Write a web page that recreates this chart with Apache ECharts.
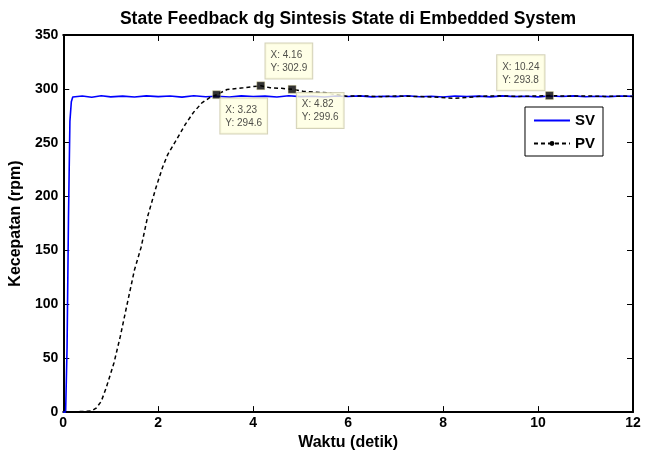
<!DOCTYPE html>
<html>
<head>
<meta charset="utf-8">
<script src="https://cdn.jsdelivr.net/npm/echarts@6/dist/echarts.min.js"></script>
<style>
html,body{margin:0;padding:0;background:#fff;}
#chart{width:648px;height:456px;}
</style>
</head>
<body>
<div id="chart"></div>
<script>
var titleText = 'State Feedback dg Sintesis State di Embedded System';
var xName = 'Waktu (detik)';
var yName = 'Kecepatan (rpm)';
var xTicks = [0, 2, 4, 6, 8, 10, 12];
var yTicks = [0, 50, 100, 150, 200, 250, 300, 350];

var svTime = [0, 0.05, 0.08, 0.11, 0.14, 0.17, 0.2, 0.4, 0.6, 0.8, 1.0, 1.25, 1.5, 1.75, 2.0, 2.25, 2.5, 2.75, 3.0, 3.25, 3.5, 3.75, 4.0, 4.25, 4.5, 4.75, 5.0, 5.25, 5.5, 5.75, 6.0, 6.25, 6.5, 6.75, 7.0, 7.25, 7.5, 7.75, 8.0, 8.25, 8.5, 8.75, 9.0, 9.25, 9.5, 9.75, 10.0, 10.25, 10.5, 10.75, 11.0, 11.25, 11.5, 11.75, 12.0];
var svValue = [0, 0, 60, 180, 270, 288, 292.5, 293.4, 292.2, 293.6, 292.6, 293.3, 292.4, 293.5, 292.8, 293.4, 292.3, 293.6, 292.7, 293.2, 292.5, 293.5, 292.9, 293.3, 292.4, 293.6, 292.8, 293.1, 292.5, 293.4, 292.9, 293.5, 292.6, 293.2, 292.8, 293.6, 292.7, 293.1, 292.5, 293.4, 292.9, 293.3, 292.6, 293.5, 292.8, 293.2, 292.6, 293.4, 292.9, 293.5, 292.7, 293.2, 292.8, 293.4, 293.0];

var pvTime = [0.05, 0.2, 0.3, 0.4, 0.5, 0.6, 0.7, 0.8, 0.9, 1.0, 1.07, 1.2, 1.32, 1.5, 1.64, 1.78, 1.95, 2.09, 2.2, 2.36, 2.57, 2.74, 2.92, 3.09, 3.23, 3.45, 3.79, 4.16, 4.36, 4.6, 4.82, 5.05, 5.3, 5.55, 5.97, 6.3, 6.7, 7.0, 7.4, 7.8, 8.2, 8.5, 8.8, 9.2, 9.6, 10.0, 10.24, 10.6, 11.0, 11.4, 11.8, 12.0];
var pvValue = [0, 0, 0.5, 0.5, 0.8, 1, 4, 10, 22, 36, 46, 70, 95, 132, 153, 182, 208, 227, 239, 251, 267, 278, 287, 292, 294.6, 299.4, 301, 302.9, 301, 300.5, 299.6, 297.8, 297, 296.3, 293.2, 293.5, 292.8, 293.4, 293, 292.5, 291.2, 292, 293.2, 293.5, 293, 293.4, 293.8, 293.2, 293.5, 293, 293.3, 293];

var tipX = [3.23, 4.16, 4.82, 10.24];
var tipY = [294.6, 302.9, 299.6, 293.8];

function pairs(xs, ys) { return xs.map(function (x, i) { return [x, ys[i]]; }); }

var tipLabelPos = [[8, 8], [9, -38], [9, 8], [-48, -36]];
var tipData = tipX.map(function (x, i) {
  return {
    value: [x, tipY[i]],
    label: { position: tipLabelPos[i] }
  };
});

var font = 'Liberation Sans, Arial, sans-serif';
var chart = echarts.init(document.getElementById('chart'), null, { renderer: 'canvas' });

function axisCommon() {
  return {
    axisLine: { show: true, onZero: false, lineStyle: { color: '#000', width: 2 } },
    axisTick: { show: true, inside: true, length: 6, lineStyle: { color: '#000', width: 1 } },
    splitLine: { show: false }
  };
}

chart.setOption({
  animation: false,
  backgroundColor: '#fff',
  title: {
    text: titleText,
    left: 343,
    textAlign: 'center',
    top: 5,
    textStyle: { fontFamily: font, fontSize: 17.5, fontWeight: 'bold', color: '#000' }
  },
  grid: { left: 63, right: 15, top: 35, bottom: 43 },
  legend: {
    orient: 'vertical',
    right: 45,
    top: 107,
    backgroundColor: '#fff',
    borderColor: '#000',
    borderWidth: 1,
    padding: [6, 8, 5, 8],
    itemWidth: 36,
    itemHeight: 6,
    itemGap: 8,
    textStyle: { fontFamily: font, fontSize: 15, fontWeight: 'bold', color: '#000' },
    data: [
      { name: 'SV', itemStyle: { opacity: 0 } },
      { name: 'PV' }
    ]
  },
  xAxis: [
    Object.assign(axisCommon(), {
      type: 'value', min: 0, max: 12, interval: 2, position: 'bottom',
      name: xName, nameLocation: 'middle', nameGap: 19,
      nameTextStyle: { fontFamily: font, fontSize: 16, fontWeight: 'bold', color: '#000' },
      axisLabel: { fontFamily: font, fontSize: 14, fontWeight: 'bold', color: '#000', margin: 4,
        formatter: function (v) { return xTicks.indexOf(v) >= 0 ? String(v) : ''; } }
    }),
    Object.assign(axisCommon(), {
      type: 'value', min: 0, max: 12, interval: 2, position: 'top',
      axisLabel: { show: false }
    })
  ],
  yAxis: [
    Object.assign(axisCommon(), {
      type: 'value', min: 0, max: 350, interval: 50, position: 'left',
      name: yName, nameLocation: 'middle', nameGap: 37,
      nameTextStyle: { fontFamily: font, fontSize: 16, fontWeight: 'bold', color: '#000' },
      axisLabel: { fontFamily: font, fontSize: 14, fontWeight: 'bold', color: '#000', margin: 5,
        formatter: function (v) { return yTicks.indexOf(v) >= 0 ? String(v) : ''; } }
    }),
    Object.assign(axisCommon(), {
      type: 'value', min: 0, max: 350, interval: 50, position: 'right',
      axisLabel: { show: false }
    })
  ],
  series: [
    {
      name: 'SV', type: 'line', xAxisIndex: 0, yAxisIndex: 0,
      data: pairs(svTime, svValue),
      showSymbol: false, symbol: 'none',
      lineStyle: { color: '#0000ff', width: 1.6 },
      itemStyle: { color: '#0000ff' },
      z: 2
    },
    {
      name: 'PV', type: 'line', xAxisIndex: 0, yAxisIndex: 0,
      data: pairs(pvTime, pvValue),
      showSymbol: false, symbol: 'circle', symbolSize: 4,
      lineStyle: { color: '#000', width: 1.5, type: [4, 3] },
      itemStyle: { color: '#000' },
      z: 3
    },
    {
      name: 'tips', type: 'scatter', xAxisIndex: 0, yAxisIndex: 0,
      data: tipData,
      symbol: 'rect', symbolSize: 8,
      itemStyle: { color: '#000', borderColor: '#e8e0a0', borderWidth: 0.5 },
      label: {
        show: true,
        formatter: function (p) { return 'X: ' + p.value[0] + '\nY: ' + p.value[1]; },
        fontFamily: font, fontSize: 10, color: '#222', lineHeight: 13,
        align: 'left', verticalAlign: 'top',
        backgroundColor: '#ffffe1', borderColor: '#c9c7a8', borderWidth: 1,
        padding: [5, 5, 4, 5]
      },
      z: 5
    }
  ]
});
</script>
</body>
</html>
